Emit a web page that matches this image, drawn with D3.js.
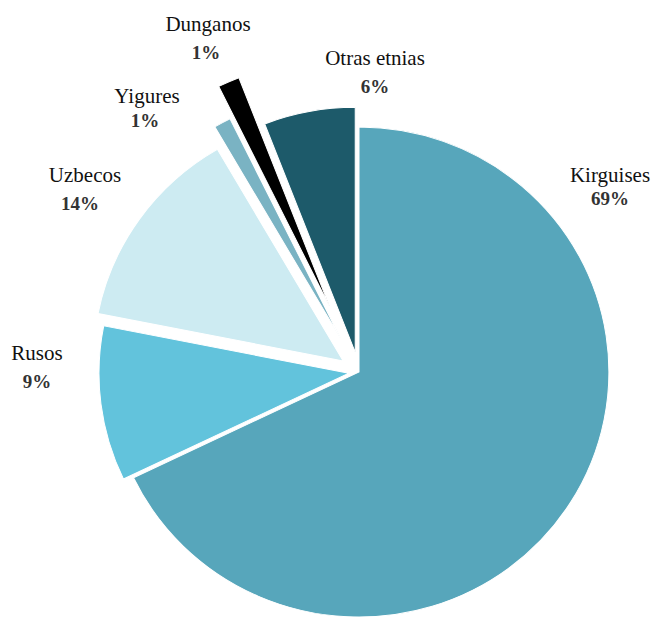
<!DOCTYPE html>
<html lang="es">
<head>
  <meta charset="UTF-8">
  <title>Etnias</title>
  <script src="https://d3js.org/d3.v7.min.js"></script>
  <style>
    body { margin:0; background:#fff; overflow:hidden; }
    svg { display:block; }
  </style>
</head>
<body>
  <script>
    // data (clockwise from 12 o'clock)
    const groups  = ["Kirguises", "Rusos", "Uzbecos", "Yigures", "Dunganos", "Otras etnias"];
    const shares  = [67.9, 10.2, 13.5, 1.1, 1.4, 5.9];
    const pctText = ["69%", "9%", "14%", "1%", "1%", "6%"];
    const colors  = ["#57a6bb", "#62c3dc", "#cdebf2", "#7ab3c3", "#000000", "#1d5a6a"];

    // how far each slice is pulled out
    const explode = [0, 10, 19, 38, 72, 20];

    // label anchor points (text centre, baseline of name)
    const labelPos = [[610, 182], [37, 360], [85, 182], [147, 103], [208, 31], [375, 65]];

    const width = 654, height = 618;
    const cx = 359, cy = 372, r = 245;
    const serif = "'Liberation Serif', 'DejaVu Serif', serif";

    const svg = d3.select("body").append("svg")
      .attr("width", width)
      .attr("height", height);

    const data = groups.map((g, i) => ({name: g, value: shares[i], pct: pctText[i], i}));

    const pie = d3.pie().sort(null).value(d => d.value);
    const arc = d3.arc().innerRadius(0).outerRadius(r);
    const arcs = pie(data);

    const g = svg.append("g")
      .attr("transform", `translate(${cx},${cy}) scale(1.02,1)`);

    g.selectAll("path")
      .data(arcs)
      .join("path")
        .attr("d", arc)
        .attr("fill", d => colors[d.data.i])
        .attr("stroke", "#fff")
        .attr("stroke-width", 1)
        .attr("transform", d => {
          const a = (d.startAngle + d.endAngle) / 2;
          const off = explode[d.data.i];
          return `translate(${Math.sin(a) * off},${-Math.cos(a) * off})`;
        });

    // labels
    const lab = svg.selectAll("g.lab")
      .data(data)
      .join("g")
        .attr("class", "lab")
        .attr("transform", d => `translate(${labelPos[d.i][0]},${labelPos[d.i][1]})`);

    lab.append("text")
      .attr("text-anchor", "middle")
      .attr("font-family", serif)
      .attr("font-size", 21)
      .attr("fill", "#111")
      .text(d => d.name);

    lab.append("text")
      .attr("text-anchor", "middle")
      .attr("font-family", serif)
      .attr("font-size", 19)
      .attr("font-weight", "bold")
      .attr("fill", "#333")
      .attr("x", d => d.i === 2 ? -5 : (d.i === 3 || d.i === 4) ? -2 : 0)
      .attr("y", d => d.i === 0 ? 23 : d.i === 3 ? 24 : 28)
      .text(d => d.pct);
  </script>
</body>
</html>
